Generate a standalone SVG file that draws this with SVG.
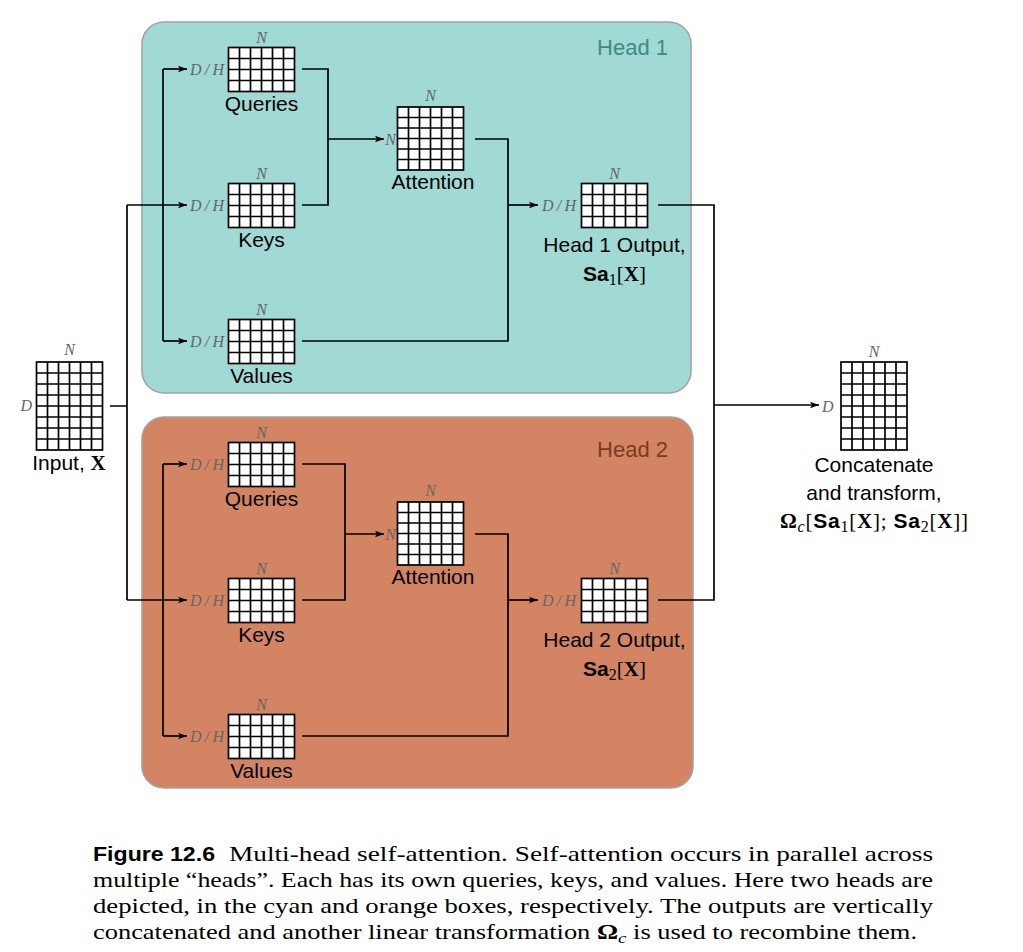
<svg xmlns="http://www.w3.org/2000/svg" xmlns:xlink="http://www.w3.org/1999/xlink" width="1023" height="952" viewBox="0 0 1023 952">
<style>
.box{stroke:#a3a3a3;stroke-width:1.6}
.h1{fill:#a1d9d4}
.h2{fill:#d38462}
.grid{fill:#fff;stroke:#000;stroke-width:1.7}
.con{fill:none;stroke:#000;stroke-width:1.7}
.lbl{font-family:"Liberation Sans",Arial,sans-serif;font-size:21px;fill:#000;text-anchor:middle}
.dim{font-family:"Liberation Serif","Times New Roman",serif;font-style:italic;font-size:16px;fill:#666}
.hl{font-family:"Liberation Sans",Arial,sans-serif;font-size:22px;text-anchor:end}
.sb{font-family:"Liberation Sans",Arial,sans-serif;font-weight:bold}
.mx{font-family:"Liberation Serif","Times New Roman",serif;font-weight:bold}
.mr{font-family:"Liberation Serif","Times New Roman",serif}
.mi{font-family:"Liberation Serif","Times New Roman",serif;font-style:italic}
.cap{font-family:"Liberation Serif","Times New Roman",serif;font-size:21px;fill:#000}
</style>
<defs>
<marker id="ah" markerUnits="userSpaceOnUse" markerWidth="10" markerHeight="8" refX="9" refY="4" orient="auto">
<path d="M0,0.8 L9,4 L0,7.2 L2,4 Z" fill="#000"/>
</marker>
<g id="g64"><rect class="grid" x="0" y="0" width="66" height="44"/><path class="grid" d="M11,0V44M22,0V44M33,0V44M44,0V44M55,0V44M0,11H66M0,22H66M0,33H66"/></g>
<g id="g66"><rect class="grid" x="0" y="0" width="66" height="63"/><path class="grid" d="M11,0V63M22,0V63M33,0V63M44,0V63M55,0V63M0,10.5H66M0,21H66M0,31.5H66M0,42H66M0,52.5H66"/></g>
<g id="g68"><rect class="grid" x="0" y="0" width="66" height="88"/><path class="grid" d="M11,0V88M22,0V88M33,0V88M44,0V88M55,0V88M0,11H66M0,22H66M0,33H66M0,44H66M0,55H66M0,66H66M0,77H66"/></g>
</defs>
<rect width="1023" height="952" fill="#fff"/>
<g id="head1">
<rect class="box h1" x="142" y="22" width="549" height="371" rx="22"/>
<text class="hl" x="668" y="55" fill="#3d8c84">Head 1</text>
</g>
<g id="head2">
<rect class="box h2" x="142" y="417" width="551" height="371" rx="22"/>
<text class="hl" x="668" y="457" fill="#7b3b22">Head 2</text>
</g>
<g id="connectors">
<path class="con" d="M110,406H127M127,205V600M163,69V341M163,464V736"/>
<path class="con" marker-end="url(#ah)" d="M127,205H187"/>
<path class="con" marker-end="url(#ah)" d="M163,69H187"/>
<path class="con" marker-end="url(#ah)" d="M163,341H187"/>
<path class="con" marker-end="url(#ah)" d="M127,600H187"/>
<path class="con" marker-end="url(#ah)" d="M163,464H187"/>
<path class="con" marker-end="url(#ah)" d="M163,736H187"/>
<path class="con" d="M302,69H328V205H302"/>
<path class="con" marker-end="url(#ah)" d="M328,139H384"/>
<path class="con" d="M475,139H508V341H302"/>
<path class="con" marker-end="url(#ah)" d="M508,205H538"/>
<path class="con" d="M302,464H345V600H302"/>
<path class="con" marker-end="url(#ah)" d="M345,534H384"/>
<path class="con" d="M475,534H508V736H302"/>
<path class="con" marker-end="url(#ah)" d="M508,600H538"/>
<path class="con" d="M658,205H714V600H658"/>
<path class="con" marker-end="url(#ah)" d="M714,405H819"/>
</g>
<g id="input">
<use href="#g68" x="36.5" y="362"/>
<text class="dim" x="69.5" y="355" text-anchor="middle">N</text>
<text class="dim" x="32" y="411" text-anchor="end">D</text>
<text class="lbl" x="69" y="470">Input, <tspan class="mx">X</tspan></text>
</g>
<g id="h1-queries">
<use href="#g64" x="228.5" y="47.5"/>
<text class="dim" x="261.5" y="43" text-anchor="middle">N</text>
<text class="dim" x="190" y="75" textLength="34" lengthAdjust="spacing">D/H</text>
<text class="lbl" x="261.5" y="111">Queries</text>
</g>
<g id="h1-keys">
<use href="#g64" x="228.5" y="183.5"/>
<text class="dim" x="261.5" y="179" text-anchor="middle">N</text>
<text class="dim" x="190" y="211" textLength="34" lengthAdjust="spacing">D/H</text>
<text class="lbl" x="261.5" y="247">Keys</text>
</g>
<g id="h1-values">
<use href="#g64" x="228.5" y="319.5"/>
<text class="dim" x="261.5" y="315" text-anchor="middle">N</text>
<text class="dim" x="190" y="347" textLength="34" lengthAdjust="spacing">D/H</text>
<text class="lbl" x="261.5" y="383">Values</text>
</g>
<g id="h1-attention">
<use href="#g66" x="397.5" y="107"/>
<text class="dim" x="430.5" y="101" text-anchor="middle">N</text>
<text class="dim" x="396" y="145" text-anchor="end">N</text>
<text class="lbl" x="433" y="189">Attention</text>
</g>
<g id="h1-output">
<use href="#g64" x="581.5" y="183.5"/>
<text class="dim" x="614.5" y="179" text-anchor="middle">N</text>
<text class="dim" x="542" y="211" textLength="34" lengthAdjust="spacing">D/H</text>
<text class="lbl" x="614.5" y="252">Head 1 Output,</text>
<text class="lbl" x="614.5" y="281"><tspan class="sb">Sa</tspan><tspan class="mr" font-size="16" dy="4">1</tspan><tspan class="mr" dy="-4">[</tspan><tspan class="mx">X</tspan><tspan class="mr">]</tspan></text>
</g>
<g id="h2-queries">
<use href="#g64" x="228.5" y="442.5"/>
<text class="dim" x="261.5" y="438" text-anchor="middle">N</text>
<text class="dim" x="190" y="470" textLength="34" lengthAdjust="spacing">D/H</text>
<text class="lbl" x="261.5" y="506">Queries</text>
</g>
<g id="h2-keys">
<use href="#g64" x="228.5" y="578.5"/>
<text class="dim" x="261.5" y="574" text-anchor="middle">N</text>
<text class="dim" x="190" y="606" textLength="34" lengthAdjust="spacing">D/H</text>
<text class="lbl" x="261.5" y="642">Keys</text>
</g>
<g id="h2-values">
<use href="#g64" x="228.5" y="714.5"/>
<text class="dim" x="261.5" y="710" text-anchor="middle">N</text>
<text class="dim" x="190" y="742" textLength="34" lengthAdjust="spacing">D/H</text>
<text class="lbl" x="261.5" y="778">Values</text>
</g>
<g id="h2-attention">
<use href="#g66" x="397.5" y="502"/>
<text class="dim" x="430.5" y="496" text-anchor="middle">N</text>
<text class="dim" x="396" y="540" text-anchor="end">N</text>
<text class="lbl" x="433" y="584">Attention</text>
</g>
<g id="h2-output">
<use href="#g64" x="581.5" y="578.5"/>
<text class="dim" x="614.5" y="574" text-anchor="middle">N</text>
<text class="dim" x="542" y="606" textLength="34" lengthAdjust="spacing">D/H</text>
<text class="lbl" x="614.5" y="647">Head 2 Output,</text>
<text class="lbl" x="614.5" y="676"><tspan class="sb">Sa</tspan><tspan class="mr" font-size="16" dy="4">2</tspan><tspan class="mr" dy="-4">[</tspan><tspan class="mx">X</tspan><tspan class="mr">]</tspan></text>
</g>
<g id="output">
<use href="#g68" x="841" y="362"/>
<text class="dim" x="874" y="357" text-anchor="middle">N</text>
<text class="dim" x="822" y="412">D</text>
<text class="lbl" x="874" y="472">Concatenate</text>
<text class="lbl" x="874" y="500">and transform,</text>
<text class="lbl" x="874" y="528" textLength="188" lengthAdjust="spacing"><tspan class="mx">Ω</tspan><tspan class="mi" font-size="16" dy="4">c</tspan><tspan class="mr" dy="-4">[</tspan><tspan class="sb">Sa</tspan><tspan class="mr" font-size="16" dy="4">1</tspan><tspan class="mr" dy="-4">[</tspan><tspan class="mx">X</tspan><tspan class="mr">]; </tspan><tspan class="sb">Sa</tspan><tspan class="mr" font-size="16" dy="4">2</tspan><tspan class="mr" dy="-4">[</tspan><tspan class="mx">X</tspan><tspan class="mr">]]</tspan></text>
</g>
<g id="caption">
<text class="sb" x="93" y="861" font-size="20" textLength="122" lengthAdjust="spacingAndGlyphs">Figure 12.6</text>
<text class="cap" x="229" y="861" textLength="704" lengthAdjust="spacingAndGlyphs">Multi-head self-attention.  Self-attention occurs in parallel across</text>
<text class="cap" x="93" y="887" textLength="840" lengthAdjust="spacingAndGlyphs">multiple “heads”. Each has its own queries, keys, and values. Here two heads are</text>
<text class="cap" x="93" y="913" textLength="840" lengthAdjust="spacingAndGlyphs">depicted, in the cyan and orange boxes, respectively.  The outputs are vertically</text>
<text class="cap" x="93" y="939" textLength="824" lengthAdjust="spacingAndGlyphs">concatenated and another linear transformation <tspan class="mx">Ω</tspan><tspan class="mi" font-size="15" dy="4">c</tspan><tspan dy="-4"> is used to recombine them.</tspan></text>
</g>
</svg>
